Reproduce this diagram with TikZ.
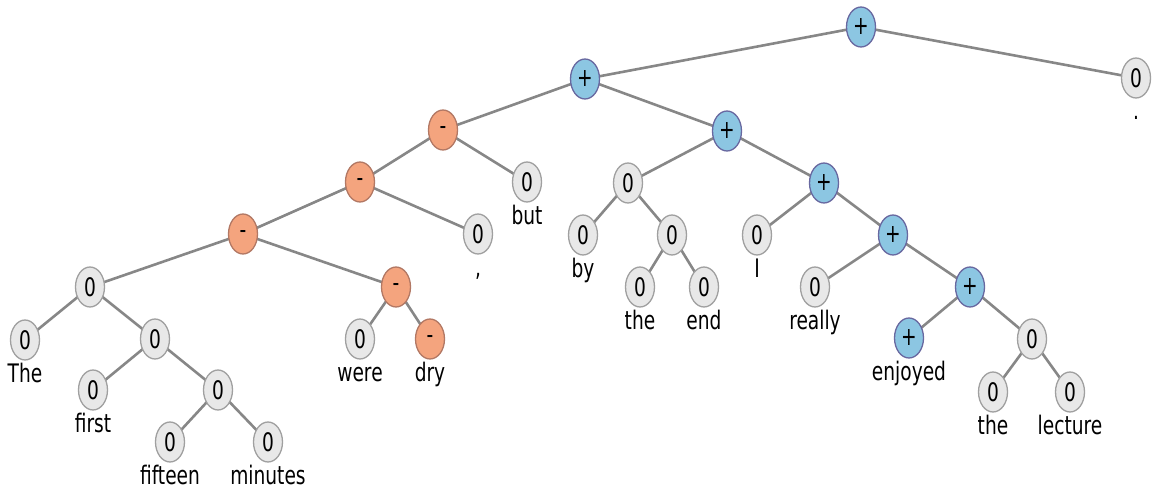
\documentclass[tikz,border=0pt]{standalone}
\usepackage{fontspec}
\setmainfont{DejaVu Sans}[FakeStretch=0.73]
\usetikzlibrary{backgrounds,shapes.geometric}
\definecolor{zerofill}{RGB}{232,232,232}
\definecolor{zeroline}{RGB}{160,160,160}
\definecolor{posfill}{RGB}{140,198,226}
\definecolor{posline}{RGB}{104,104,160}
\definecolor{negfill}{RGB}{244,164,126}
\definecolor{negline}{RGB}{178,120,100}
\definecolor{edgegray}{RGB}{135,135,135}
\begin{document}
\begin{tikzpicture}[x=1pt,y=-1pt,
  every node/.style={font=\fontsize{25.5}{29}\selectfont},
  zeronode/.style={shape=ellipse,draw=zeroline,fill=zerofill,line width=1.3pt,inner sep=0pt,minimum width=29pt,minimum height=40pt},
  posnode/.style={zeronode,draw=posline,fill=posfill},
  negnode/.style={zeronode,draw=negline,fill=negfill},
  word/.style={anchor=base,inner sep=0pt},
  branch/.style={draw=edgegray,line width=2.6pt}]
\useasboundingbox (0,0) rectangle (1156,492);

% internal and leaf nodes of the sentiment tree
\node[posnode] (root) at (861,27) {+};
\node[zeronode] (r0) at (1136,78) {0};
\node[posnode] (a) at (585,79) {+};
\node[negnode] (m1) at (443,130) {-};
\node[posnode] (p1) at (727,131) {+};
\node[negnode] (m2) at (360,182) {-};
\node[zeronode] (zbut) at (527,182) {0};
\node[negnode] (m3) at (243,234) {-};
\node[zeronode] (zcom) at (478,234) {0};
\node[zeronode] (z1) at (90,287) {0};
\node[negnode] (m4) at (396,287) {-};
\node[zeronode] (zThe) at (25,340) {0};
\node[zeronode] (z2) at (155,339) {0};
\node[zeronode] (zwere) at (360,339) {0};
\node[negnode] (mdry) at (430,339) {-};
\node[zeronode] (zfirst) at (93,390) {0};
\node[zeronode] (z3) at (218,390) {0};
\node[zeronode] (zfifteen) at (170,442) {0};
\node[zeronode] (zminutes) at (268,442) {0};
\node[zeronode] (z4) at (628,183) {0};
\node[posnode] (p2) at (824,183) {+};
\node[zeronode] (zby) at (583,235) {0};
\node[zeronode] (z5) at (672,235) {0};
\node[zeronode] (zthe) at (640,287) {0};
\node[zeronode] (zend) at (704,287) {0};
\node[zeronode] (zI) at (757,235) {0};
\node[posnode] (p3) at (893,235) {+};
\node[zeronode] (zreally) at (815,287) {0};
\node[posnode] (p4) at (970,287) {+};
\node[posnode] (penjoyed) at (909,338) {+};
\node[zeronode] (z6) at (1032,339) {0};
\node[zeronode] (zthe2) at (993,392) {0};
\node[zeronode] (zlecture) at (1070,392) {0};

% words under the leaves
\node[word] (wdot) at ([yshift=-42pt]r0.center) {.};
\node[word] (wbut) at ([yshift=-42pt]zbut.center) {but};
\node[word] (wcom) at ([yshift=-42pt]zcom.center) {,};
\node[word] (wThe) at ([yshift=-42pt]zThe.center) {The};
\node[word] (wwere) at ([yshift=-42pt]zwere.center) {were};
\node[word] (wdry) at ([yshift=-42pt]mdry.center) {dry};
\node[word] (wfirst) at ([yshift=-42pt]zfirst.center) {first};
\node[word] (wfifteen) at ([yshift=-42pt]zfifteen.center) {fifteen};
\node[word] (wminutes) at ([yshift=-42pt]zminutes.center) {minutes};
\node[word] (wby) at ([yshift=-42pt]zby.center) {by};
\node[word] (wthe) at ([yshift=-42pt]zthe.center) {the};
\node[word] (wend) at ([yshift=-42pt]zend.center) {end};
\node[word] (wI) at ([yshift=-42pt]zI.center) {I};
\node[word] (wreally) at ([yshift=-42pt]zreally.center) {really};
\node[word] (wenjoyed) at ([yshift=-42pt]penjoyed.center) {enjoyed};
\node[word] (wthe2) at ([yshift=-42pt]zthe2.center) {the};
\node[word] (wlecture) at ([yshift=-42pt]zlecture.center) {lecture};

% branches
\begin{pgfonlayer}{background}
\foreach \u/\v in {root/a,root/r0,a/m1,a/p1,m1/m2,m1/zbut,m2/m3,m2/zcom,
  m3/z1,m3/m4,z1/zThe,z1/z2,z2/zfirst,z2/z3,z3/zfifteen,z3/zminutes,
  m4/zwere,m4/mdry,p1/z4,p1/p2,z4/zby,z4/z5,z5/zthe,z5/zend,p2/zI,p2/p3,
  p3/zreally,p3/p4,p4/penjoyed,p4/z6,z6/zthe2,z6/zlecture}
  \draw[branch] (\u.center) -- (\v.center);
\end{pgfonlayer}
\end{tikzpicture}
\end{document}
